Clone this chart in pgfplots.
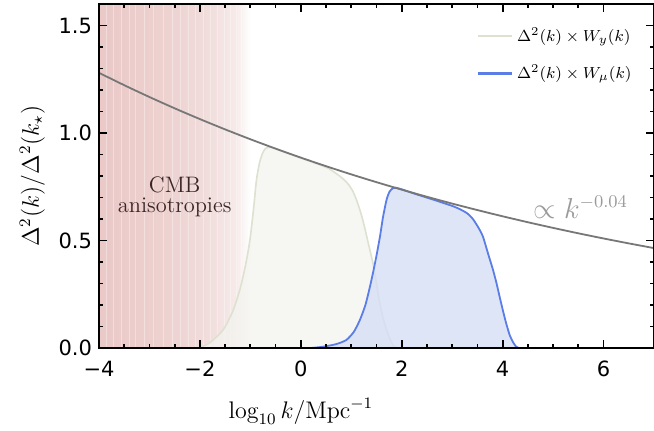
\documentclass[border=0pt]{standalone}
\usepackage{fontspec}
\usepackage{pgfplots}
\pgfplotsset{compat=1.18}
\usetikzlibrary{calc}
\newfontfamily\dejavu{DejaVu Sans}
\definecolor{wyline}{HTML}{DCE2CF}
\definecolor{wyfill}{HTML}{F3F3EF}
\definecolor{muline}{HTML}{5A7DE6}
\definecolor{mufill}{HTML}{D6DEF5}
\definecolor{cmbA}{HTML}{EAC9C7}
\definecolor{cmbB}{HTML}{EDD3D1}
\definecolor{cmbC}{HTML}{F1DEDD}
\definecolor{cmbD}{HTML}{F6EAE9}
\definecolor{cmbtext}{HTML}{3A2626}
\definecolor{plgray}{HTML}{777777}
\definecolor{pltext}{HTML}{9A9A9A}
\begin{document}
\begin{tikzpicture}
\begin{axis}[name=ax,
  scale only axis, width=277.5pt, height=172pt,
  xmin=-4, xmax=7, ymin=0, ymax=1.6,
  axis on top,
  xtick={-4,-2,0,2,4,6}, xticklabels={−4,−2,0,2,4,6},
  ytick={0,0.5,1,1.5}, yticklabels={0.0,0.5,1.0,1.5},
  minor x tick num=3, minor y tick num=4,
  tick align=inside, xtick pos=both, ytick pos=both,
  major tick length=4pt, minor tick length=2pt,
  every tick/.style={black, line width=0.9pt},
  axis line style={line width=1.1pt},
  ticklabel style={font=\dejavu\fontsize{10.5}{12}\selectfont},
  xticklabel style={yshift=-3pt},
  xlabel={$\log_{10} k/\mathrm{Mpc}^{-1}$},
  ylabel={$\Delta^2(k)/\Delta^2(k_\star)$},
  xlabel style={font=\fontsize{12}{14}\selectfont, at={(axis cs:0,0)}, yshift=-21.5pt, anchor=north},
  ylabel style={font=\fontsize{12}{14}\selectfont},
  legend style={draw=none, fill=none, at={(0.978,0.955)}, anchor=north east,
    font=\fontsize{8.5}{10}\selectfont, row sep=6.5pt},
  legend cell align=left,
  legend image code/.code={\draw[#1] (0pt,0pt) -- (17pt,0pt);},
]
% CMB region
\addplot[draw=none, left color=cmbA, right color=cmbB, forget plot] coordinates {(-4,1.6) (-2.5,1.6)} \closedcycle;
\addplot[draw=none, left color=cmbB, right color=cmbC, forget plot] coordinates {(-2.5,1.6) (-1.8,1.6)} \closedcycle;
\addplot[draw=none, left color=cmbC, right color=cmbD, forget plot] coordinates {(-1.8,1.6) (-1.3,1.6)} \closedcycle;
\addplot[draw=none, left color=cmbD, right color=white, forget plot] coordinates {(-1.3,1.6) (-1.0,1.6)} \closedcycle;
\addplot[ycomb, draw=white, draw opacity=0.35, line width=0.4pt, forget plot] coordinates {
(-3.86,1.6) (-3.72,1.6) (-3.55,1.6) (-3.4,1.6) (-3.27,1.6) (-3.1,1.6) (-2.93,1.6) (-2.72,1.6)
(-2.55,1.6) (-2.38,1.6) (-2.22,1.6) (-2.08,1.6) (-1.93,1.6) (-1.8,1.6) (-1.66,1.6) (-1.52,1.6)
(-1.4,1.6) (-1.28,1.6) (-1.17,1.6)
};

% W_y
\addplot[draw=wyline, line width=0.8pt, fill=wyfill, fill opacity=0.75, smooth, tension=0.4, forget plot] coordinates {
(-2.2,0) (-2.0,0.003) (-1.8,0.025) (-1.54,0.084) (-1.35,0.17) (-1.21,0.27) (-1.1,0.38)
(-1.01,0.50) (-0.94,0.64) (-0.88,0.78) (-0.82,0.86) (-0.76,0.905) (-0.70,0.928) (-0.61,0.935)
(-0.5,0.927) (-0.22,0.903) (0.0,0.884) (0.31,0.858) (0.55,0.835) (0.77,0.80) (0.92,0.768)
(1.03,0.73) (1.13,0.672) (1.23,0.595) (1.33,0.495) (1.43,0.394) (1.50,0.30) (1.56,0.215)
(1.63,0.14) (1.70,0.084) (1.77,0.04) (1.83,0.012) (1.92,0)
} \closedcycle;

% W_mu
\addplot[draw=muline, line width=0.9pt, fill=mufill, fill opacity=0.8, smooth, tension=0.4, forget plot] coordinates {
(0.2,0) (0.44,0.006) (0.7,0.018) (0.90,0.037) (1.05,0.075) (1.17,0.13) (1.28,0.20)
(1.37,0.285) (1.44,0.36) (1.50,0.43) (1.57,0.52) (1.63,0.61) (1.70,0.69) (1.76,0.728)
(1.83,0.744) (1.89,0.745) (2.0,0.738) (2.29,0.715) (2.6,0.692) (2.82,0.675) (3.0,0.661)
(3.15,0.646) (3.3,0.626) (3.41,0.60) (3.52,0.56) (3.61,0.518) (3.71,0.44) (3.81,0.363)
(3.88,0.30) (3.94,0.239) (4.01,0.17) (4.07,0.115) (4.14,0.06) (4.20,0.03) (4.26,0.008) (4.32,0)
} \closedcycle;

% power law
\addplot[plgray, line width=0.9pt, smooth, forget plot] coordinates {
(-4,1.280) (-3.5,1.2224) (-3,1.1674) (-2.5,1.1148) (-2,1.0647) (-1.5,1.0168) (-1,0.9710)
(-0.5,0.9273) (0,0.8855) (0.5,0.8457) (1,0.8076) (1.5,0.7713) (2,0.7366) (2.5,0.7034)
(3,0.6717) (3.5,0.6415) (4,0.6126) (4.5,0.5850) (5,0.5587) (5.5,0.5335) (6,0.5095)
(6.5,0.4866) (7,0.4647)
};

\addlegendimage{draw=wyline, line width=1.4pt}
\addlegendentry{$\Delta^2(k)\times W_y(k)$}
\addlegendimage{draw=muline, line width=1.4pt}
\addlegendentry{$\Delta^2(k)\times W_\mu(k)$}

\node[text=cmbtext, inner sep=0pt, font=\fontsize{11.2}{12}\selectfont] at (axis cs:-2.5,0.758) {CMB};
\node[text=cmbtext, inner sep=0pt, font=\fontsize{11.2}{12}\selectfont] at (axis cs:-2.5,0.655) {anisotropies};
\node[text=pltext, font=\fontsize{13.3}{15}\selectfont] at (axis cs:5.55,0.655) {$\propto k^{-0.04}$};
\end{axis}
\pgfresetboundingbox
\path ($(ax.south west)+(-49.5pt,-41pt)$) rectangle ($(ax.north east)+(0pt,2pt)$);
\end{tikzpicture}
\end{document}
